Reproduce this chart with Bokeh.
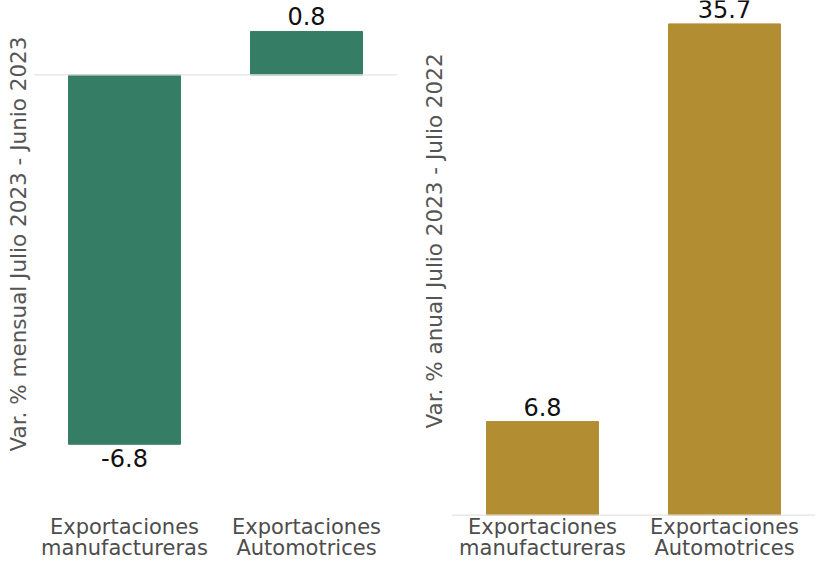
from bokeh.plotting import figure
from bokeh.models import (FactorRange, Range1d, Span, ColumnDataSource,
                          CategoricalAxis, Title, CustomJSTickFormatter)
from bokeh.layouts import row
from bokeh.embed import file_html
from bokeh.resources import INLINE
from bokeh.core.properties import value

categories = ["Exportaciones manufactureras", "Exportaciones Automotrices"]
mensual = [-6.8, 0.8]
anual = [6.8, 35.7]
mensual_title = "Var. % mensual Julio 2023 - Junio 2023"
anual_title = "Var. % anual Julio 2023 - Julio 2022"

GREEN = "#367d66"
GOLD = "#b28d32"
FONT = "DejaVu Sans"


def style_cat_axis(ax, part, standoff):
    ax.axis_line_color = None
    ax.major_tick_line_color = None
    ax.minor_tick_line_color = None
    ax.major_tick_out = 0
    ax.major_tick_in = 0
    ax.axis_label_standoff = 0
    ax.formatter = CustomJSTickFormatter(
        code=f"return tick.split(' ')[{part}];")
    ax.major_label_text_font = FONT
    ax.major_label_text_font_size = "21px"
    ax.major_label_text_line_height = 1.0
    ax.major_label_text_color = "#4d4d4d"
    ax.major_label_standoff = standoff


def make_panel(vals, color, title, width, border_left, border_right, y0, y1,
               title_standoff, title_offset):
    p = figure(x_range=FactorRange(*categories, range_padding=0),
               y_range=Range1d(y0, y1), width=width, height=562,
               output_backend="svg", toolbar_location=None,
               min_border_left=border_left, min_border_right=border_right,
               min_border_top=0, min_border_bottom=45)
    labels = [f"{v:.1f}" for v in vals]
    src = ColumnDataSource(dict(x=categories, top=vals))
    p.add_layout(Span(location=0, dimension="width", line_color="#e3e3e3", line_width=1.2))
    p.vbar(x="x", top="top", bottom=0, width=0.615, color=color, source=src)
    pos = ColumnDataSource(dict(x=[c for c, v in zip(categories, vals) if v >= 0],
                                y=[v for v in vals if v >= 0],
                                t=[l for l, v in zip(labels, vals) if v >= 0]))
    neg = ColumnDataSource(dict(x=[c for c, v in zip(categories, vals) if v < 0],
                                y=[v for v in vals if v < 0],
                                t=[l for l, v in zip(labels, vals) if v < 0]))
    p.text(x="x", y="y", text="t", source=pos, text_align="center", text_baseline="bottom",
           y_offset=-6, text_font=value(FONT), text_font_size="24px", text_color="#111111")
    p.text(x="x", y="y", text="t", source=neg, text_align="center", text_baseline="top",
           y_offset=5, text_font=value(FONT), text_font_size="24px", text_color="#111111")

    p.outline_line_color = None
    p.xgrid.visible = False
    p.ygrid.visible = False
    p.yaxis.visible = False

    t = Title(text=title, align="left", offset=title_offset, standoff=title_standoff,
              text_font=FONT, text_font_style="normal", text_font_size="21.5px",
              text_color="#555555")
    p.add_layout(t, "left")

    style_cat_axis(p.xaxis[0], 0, -2)
    ax2 = CategoricalAxis()
    style_cat_axis(ax2, 1, -6)
    p.add_layout(ax2, "below")
    return p


left = make_panel(mensual, GREEN, mensual_title, 410, 33, 13, -8.13, 1.37, 5, 65)
right = make_panel(anual, GOLD, anual_title, 409, 41, 4, -0.1, 37.4, 10, 88)

layout = row(left, right)
open("out.html", "w").write(file_html(layout, INLINE))
